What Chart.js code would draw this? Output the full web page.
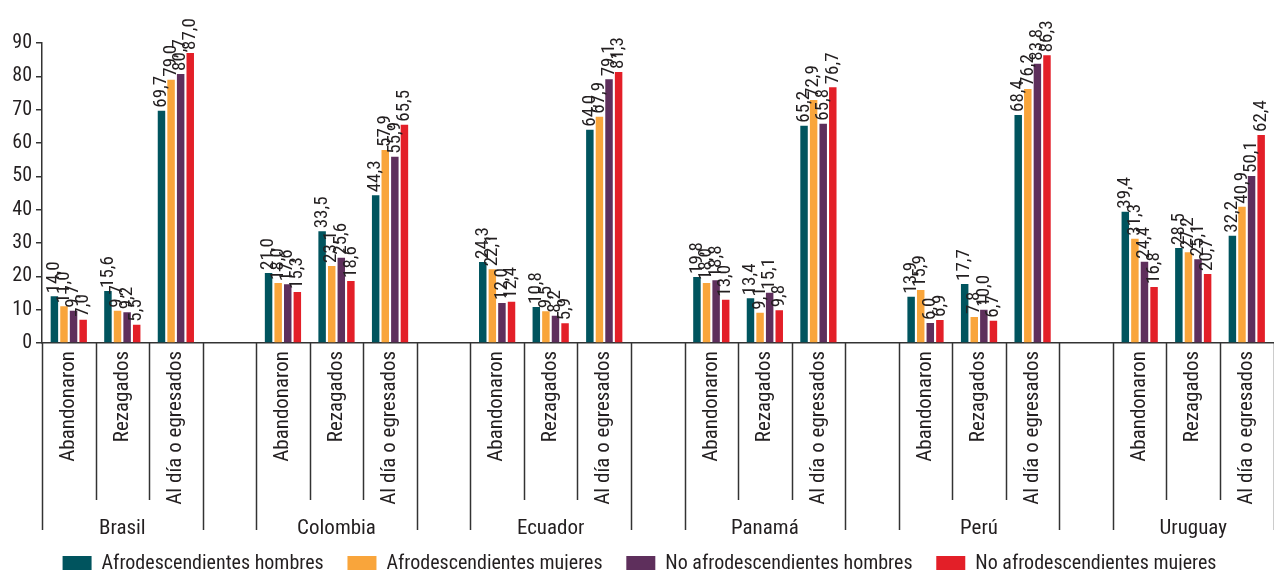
<!DOCTYPE html>
<html lang="es">
<head>
<meta charset="utf-8">
<title>Situación educativa por país</title>
<script src="https://cdn.jsdelivr.net/npm/chart.js@4.4.1/dist/chart.umd.min.js"></script>
<style>
  html, body { margin: 0; padding: 0; background: #ffffff; overflow: hidden; }
  #wrap { position: absolute; left: 0; top: 0; width: 1280px; height: 584px; }
</style>
</head>
<body>
<div id="wrap"><canvas id="chart" width="1280" height="584"></canvas></div>
<script>
// Países y situaciones (eje de categorías de dos niveles)
const paises = ['Brasil', 'Colombia', 'Ecuador', 'Panamá', 'Perú', 'Uruguay'];
const situaciones = ['Abandonaron', 'Rezagados', 'Al día o egresados'];

// Porcentajes por país, en el orden de las situaciones
const afroHombres   = [14.0, 15.6, 69.7, 21.0, 33.5, 44.3, 24.3, 10.8, 64.0, 19.8, 13.4, 65.2, 13.9, 17.7, 68.4, 39.4, 28.5, 32.2];
const afroMujeres   = [11.0,  9.7, 79.0, 18.0, 23.1, 57.9, 22.1,  9.5, 67.9, 18.0,  9.1, 72.9, 15.9,  7.8, 76.2, 31.3, 27.2, 40.9];
const noAfroHombres = [ 9.7,  9.2, 80.7, 17.6, 25.6, 55.9, 12.0,  8.2, 79.1, 18.8, 15.1, 65.8,  6.0, 10.0, 83.8, 24.4, 25.1, 50.1];
const noAfroMujeres = [ 7.0,  5.5, 87.0, 15.3, 18.6, 65.5, 12.4,  5.9, 81.3, 13.0,  9.8, 76.7,  6.9,  6.7, 86.3, 16.8, 20.7, 62.4];

const serieNombres = ['Afrodescendientes hombres', 'Afrodescendientes mujeres', 'No afrodescendientes hombres', 'No afrodescendientes mujeres'];
const serieColores = ['#00545e', '#f9a53b', '#5e2f5c', '#e31f28'];

const yTicks = [0, 10, 20, 30, 40, 50, 60, 70, 80, 90];

const FONT = "'Liberation Sans Narrow', 'Arial Narrow', 'Roboto Condensed', 'Liberation Sans', sans-serif";
const TEXT = '#231f20';
const LINE = '#333333';

// Build slots: three situations per country, an empty slot between countries
const slotLabels = [];
const slotPaises = [];
const slotIndex = [];     // maps slot -> position in the value arrays, or -1 for gaps
paises.forEach((p, pi) => {
  situaciones.forEach((s, si) => {
    slotLabels.push(s);
    slotPaises.push(si === 1 ? p : '');
    slotIndex.push(pi * situaciones.length + si);
  });
  if (pi < paises.length - 1) {
    slotLabels.push('');
    slotPaises.push('');
    slotIndex.push(-1);
  }
});
const expand = arr => slotIndex.map(i => (i < 0 ? null : arr[i]));

const series = [afroHombres, afroMujeres, noAfroHombres, noAfroMujeres];
const datasets = series.map((arr, k) => ({
  label: serieNombres[k],
  data: expand(arr),
  backgroundColor: serieColores[k],
  borderWidth: 0,
  categoryPercentage: 0.716,
  barPercentage: 0.78,
  xAxisID: 'x',
  yAxisID: 'y'
}));

const fmt = v => v.toFixed(1).replace('.', ',');

// Rotated value labels above each bar
const valueLabels = {
  id: 'valueLabels',
  afterDatasetsDraw(chart) {
    const ctx = chart.ctx;
    ctx.save();
    ctx.font = '19px ' + FONT;
    ctx.fillStyle = TEXT;
    ctx.textAlign = 'left';
    ctx.textBaseline = 'middle';
    chart.data.datasets.forEach((ds, di) => {
      const meta = chart.getDatasetMeta(di);
      meta.data.forEach((bar, i) => {
        const v = ds.data[i];
        if (v === null || v === undefined) return;
        ctx.save();
        ctx.translate(bar.x, bar.y - 3);
        ctx.rotate(-Math.PI / 2);
        ctx.fillText(fmt(v), 0, 0);
        ctx.restore();
      });
    });
    ctx.restore();
  }
};

// Divider lines of the two-level category axis
const dividers = {
  id: 'dividers',
  afterDraw(chart) {
    const x = chart.scales.x;
    const ctx = chart.ctx;
    const n = slotLabels.length;
    const w = (x.right - x.left) / n;
    const top = x.top;
    ctx.save();
    ctx.strokeStyle = LINE;
    ctx.lineWidth = 1.5;
    for (let i = 0; i <= n; i++) {
      const px = Math.round(x.left + i * w) + 0.5;
      const prevGap = i > 0 && slotIndex[i - 1] < 0;
      const nextGap = i < n && slotIndex[i] < 0;
      const long = i === 0 || i === n || prevGap || nextGap;
      ctx.beginPath();
      ctx.moveTo(px, top);
      ctx.lineTo(px, long ? top + 187 : top + 157);
      ctx.stroke();
    }
    ctx.restore();
  }
};

// Legend entries with extra room between items
const legendLabels = chart => {
  const items = Chart.defaults.plugins.legend.labels.generateLabels(chart);
  items.forEach((it, i) => {
    if (i < items.length - 1) it.text = it.text + '\u00a0\u00a0\u00a0';
  });
  return items;
};

new Chart(document.getElementById('chart'), {
  type: 'bar',
  data: { labels: slotLabels, datasets },
  options: {
    responsive: false,
    animation: false,
    layout: { padding: { top: 43, left: 0, right: 1, bottom: 0 } },
    plugins: {
      tooltip: { enabled: false },
      legend: {
        position: 'bottom',
        align: 'center',
        labels: {
          color: TEXT,
          font: { family: FONT, size: 20 },
          boxWidth: 29,
          boxHeight: 16,
          padding: 10,
          generateLabels: legendLabels
        }
      }
    },
    scales: {
      x: {
        type: 'category',
        position: 'bottom',
        weight: 0,
        offset: true,
        grid: { display: false, drawTicks: false },
        border: { display: true, color: LINE, width: 1.5 },
        ticks: {
          color: TEXT,
          font: { family: FONT, size: 21 },
          minRotation: 90,
          maxRotation: 90,
          autoSkip: false,
          padding: 8
        },
        afterFit(scale) { scale.height = 162; }
      },
      x2: {
        type: 'category',
        position: 'bottom',
        weight: 1,
        offset: true,
        labels: slotPaises,
        grid: { display: false, drawTicks: false },
        border: { display: false },
        ticks: {
          color: TEXT,
          font: { family: FONT, size: 21 },
          minRotation: 0,
          maxRotation: 0,
          autoSkip: false,
          padding: 11
        },
        afterFit(scale) { scale.height = 39; }
      },
      y: {
        min: 0,
        max: 90,
        afterBuildTicks(scale) { scale.ticks = yTicks.map(v => ({ value: v })); },
        grid: { drawOnChartArea: false, drawTicks: true, tickLength: 6, color: LINE, lineWidth: 1.5 },
        border: { display: true, color: LINE, width: 1.5 },
        ticks: {
          color: TEXT,
          font: { family: FONT, size: 20 },
          padding: 4
        },
        afterFit(scale) { scale.width = 42; }
      }
    }
  },
  plugins: [valueLabels, dividers]
});
</script>
</body>
</html>
